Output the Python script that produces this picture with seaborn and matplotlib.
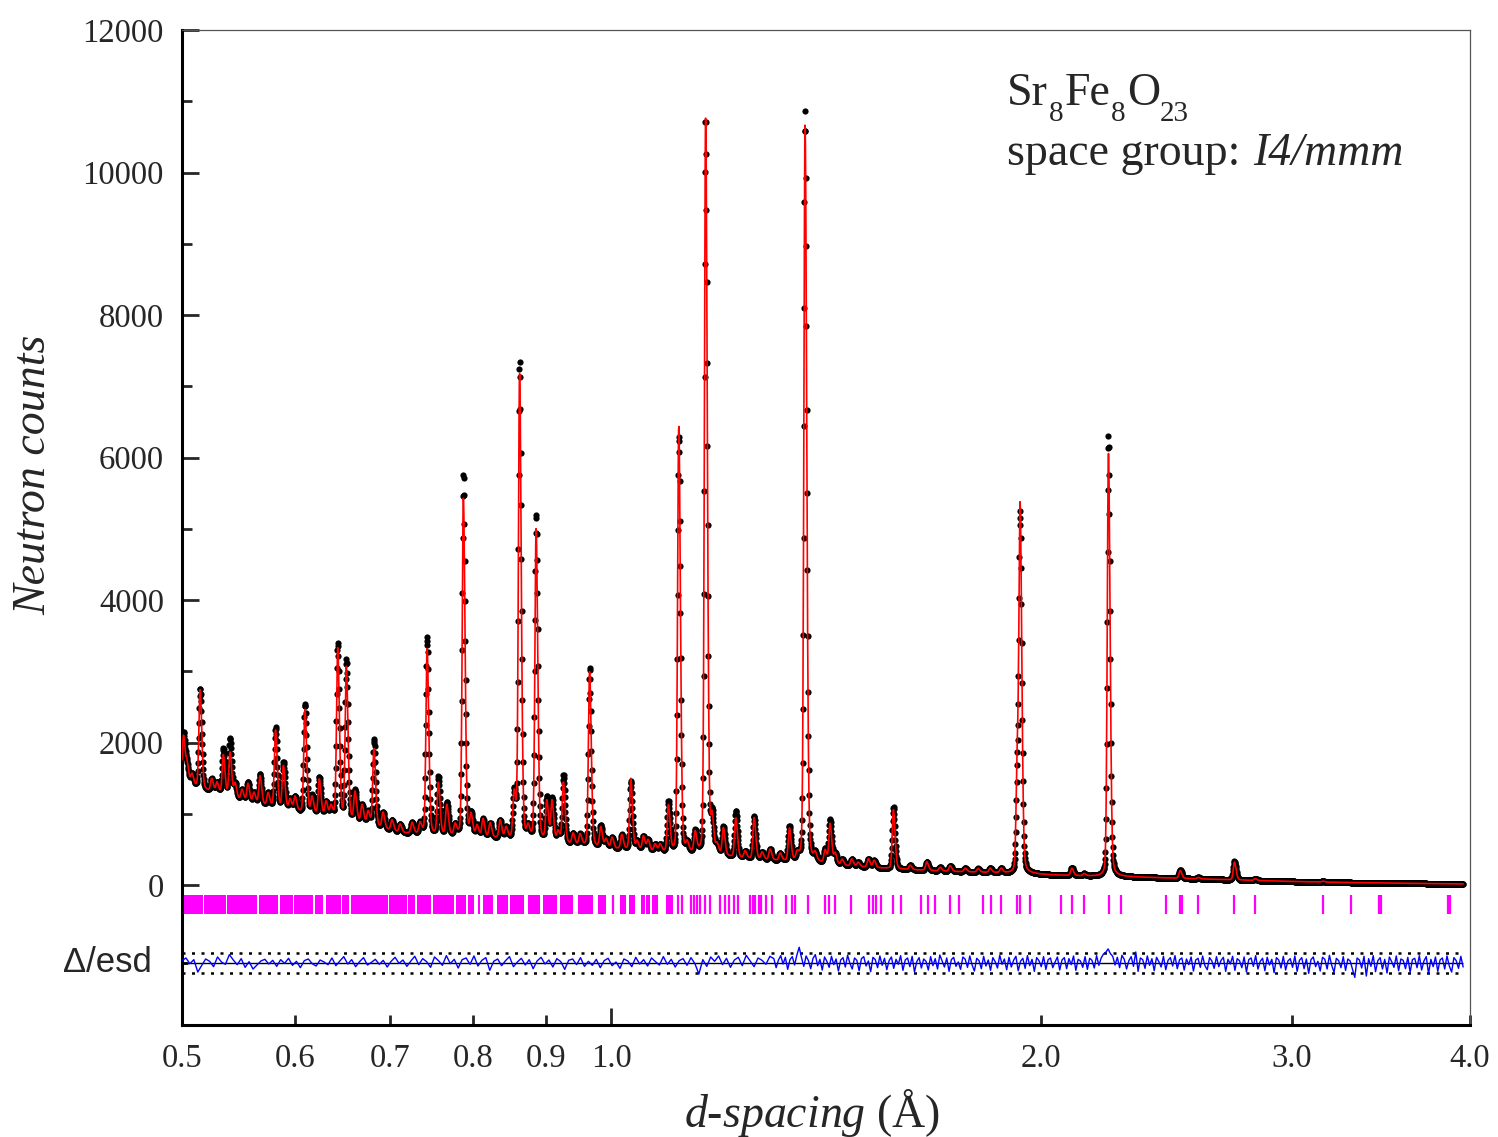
"""
Sr8Fe8O23 time-of-flight neutron pattern: observed points, calculated profile,
reflection markers and the scaled difference curve underneath.
"""

import numpy as np
import matplotlib
matplotlib.use("Agg")
import matplotlib.pyplot as plt
import matplotlib.transforms as mtransforms
import seaborn as sns

# ── Values ──────────────────────────────────────────────────────────────────
# Background level (counts) at a handful of d-spacings (Å)
BG_D = [0.500, 0.515, 0.558, 0.605, 0.657, 0.711, 0.771, 0.836, 0.906, 0.983,
        1.066, 1.155, 1.252, 1.357, 1.471, 1.594, 1.728, 1.873, 2.031, 2.200,
        2.387, 2.584, 2.805, 3.035, 3.296, 3.574, 3.956]
BG_COUNTS = [1450, 1350, 1150, 1020, 900, 730, 690, 650, 600, 520,
             470, 420, 360, 320, 260, 220, 190, 170, 140, 120,
             105, 85, 65, 47, 35, 25, 15]

# Peak positions (Å) and net heights above background: observed / calculated
PEAK_D = [0.5012, 0.5041, 0.5081, 0.5148, 0.5246, 0.5291, 0.5345, 0.5403, 0.5447, 0.5509,
          0.5562, 0.5616, 0.5671, 0.5745, 0.5815, 0.5889, 0.5953, 0.6001, 0.6098, 0.6168,
          0.6241, 0.6309, 0.6360, 0.6429, 0.6519, 0.6611, 0.6687, 0.6752, 0.6816, 0.6917,
          0.7018, 0.7110, 0.7249, 0.7343, 0.7427, 0.7563, 0.7667, 0.7770, 0.7875, 0.7973,
          0.8051, 0.8129, 0.8222, 0.8356, 0.8437, 0.8547, 0.8623, 0.8742, 0.8856, 0.9010,
          0.9087, 0.9176, 0.9255, 0.9401, 0.9508, 0.9655, 0.9831, 0.9915, 1.0012, 1.0170,
          1.0319, 1.0424, 1.0531, 1.0611, 1.0732, 1.0819, 1.0965, 1.1150, 1.1301, 1.1448,
          1.1644, 1.1766, 1.1862, 1.1983, 1.2225, 1.2410, 1.2592, 1.2756, 1.2921, 1.3132,
          1.3331, 1.3497, 1.3672, 1.3895, 1.4122, 1.4236, 1.4352, 1.4515, 1.4743, 1.4895,
          1.5144, 1.5284, 1.5768, 1.6199, 1.6642, 1.7003, 1.7280, 1.7704, 1.8079, 1.8433,
          1.8763, 1.9260, 1.9350, 2.1032, 2.1454, 2.2313, 2.5051, 2.5790, 2.7347, 2.8277,
          3.1543]
PEAK_OBS = [700, 250, 150, 1400, 180, 150, 650, 820, 200, 150,
            280, 150, 420, 180, 1120, 650, 150, 200, 1530, 250,
            530, 200, 150, 2450, 2230, 420, 250, 180, 1210, 220,
            150, 120, 150, 150, 2760, 800, 450, 150, 5080, 300,
            150, 250, 200, 250, 150, 650, 6700, 150, 4560, 600,
            600, 150, 950, 150, 150, 2500, 300, 120, 150, 200,
            960, 120, 200, 150, 100, 100, 700, 5850, 120, 300,
            10350, 500, 120, 400, 650, 100, 600, 100, 150, 100,
            480, 100, 10550, 100, 200, 620, 150, 80, 100, 60,
            120, 100, 870, 60, 120, 50, 80, 50, 50, 60,
            60, 1400, 4750, 110, 30, 6190, 120, 20, 260, 25,
            12]
PEAK_CALC = [650, 250, 150, 1390, 180, 150, 560, 620, 200, 150,
             260, 150, 400, 180, 1080, 600, 150, 200, 1450, 230,
             500, 200, 150, 2380, 2130, 400, 250, 180, 1080, 220,
             150, 120, 150, 150, 2600, 720, 420, 150, 4750, 280,
             150, 250, 200, 250, 150, 620, 6530, 150, 4370, 550,
             560, 150, 850, 150, 150, 2455, 280, 120, 150, 200,
             1000, 120, 200, 150, 100, 100, 650, 6000, 120, 280,
             10400, 450, 120, 380, 550, 100, 580, 100, 150, 100,
             450, 100, 10350, 100, 180, 560, 150, 80, 100, 60,
             120, 100, 830, 60, 120, 50, 80, 50, 50, 60,
             60, 1500, 4850, 100, 30, 5940, 110, 20, 250, 25,
             12]

# Reflection markers: dense runs (start, end) and isolated positions (Å)
TICK_BLOCKS = [(0.5006, 0.5170), (0.5183, 0.5368), (0.5379, 0.5646), (0.5659, 0.5841),
               (0.5857, 0.5984), (0.5994, 0.6181), (0.6195, 0.6281), (0.6306, 0.6464),
               (0.6477, 0.6551), (0.6569, 0.6970), (0.6988, 0.7187), (0.7202, 0.7284),
               (0.7304, 0.7471), (0.7499, 0.7757), (0.7782, 0.7905), (0.7935, 0.8012),
               (0.8060, 0.8090), (0.8125, 0.8262), (0.8311, 0.8464), (0.8491, 0.8686),
               (0.8742, 0.8913), (0.8952, 0.9166), (0.9206, 0.9401), (0.9472, 0.9714),
               (0.9788, 0.9915), (1.0142, 1.0241), (1.0290, 1.0391), (1.0492, 1.0560),
               (1.0577, 1.0645), (1.0680, 1.0784), (1.0919, 1.1048)]
TICK_D = [1.0020, 1.1138, 1.1201, 1.1374, 1.1429, 1.1485, 1.1541, 1.1634, 1.1719, 1.1919,
          1.2016, 1.2094, 1.2192, 1.2271, 1.2511, 1.2560, 1.2612, 1.2694, 1.2735, 1.2838,
          1.2963, 1.3260, 1.3389, 1.3454, 1.3739, 1.4122, 1.4213, 1.4352, 1.4727, 1.5149,
          1.5247, 1.5321, 1.5458, 1.5761, 1.5953, 1.6489, 1.6677, 1.6853, 1.7280, 1.7519,
          1.8211, 1.8463, 1.8748, 1.9260, 1.9350, 1.9647, 2.0672, 2.1032, 2.1454, 2.2338,
          2.2764, 2.4492, 2.5051, 2.5120, 2.5790, 2.7347, 2.8277, 3.1543, 3.3002, 3.4545,
          3.4640, 3.8597, 3.8741]

# Difference curve in esd units, left to right; the short-d part (up to 1.3 Å)
# is sampled more coarsely than the long-d part
DIFF_LEFT = [0.6, 1.4, -0.3, 0.9, -2.8, -0.8, 1.1, 0.4, -1.2, 1.7, 0.2, -0.5, 2.4, 0.8, -0.6, 1.2, -1.4, 0.3, -1.9, -0.7, 0.5, 1.0, -0.4, 0.7, -1.1,
             0.9, -0.2, 1.3, -0.8, 0.4, -1.5, 0.6, 1.1, -0.3, -1.0, 0.8, 0.2, -0.6, 1.4, -0.9, 0.5, 1.8, -0.4, 0.9, -1.2, 0.3, 1.5, -0.7, 0.1, 1.0,
             -0.5, 0.7, -1.3, 0.4, 1.6, -0.2, 0.8, -1.1, 0.5, 1.9, -0.6, 1.2, 0.3, -1.4, 1.7, 0.6, -0.8, 2.1, -0.3, 1.0, -1.6, 0.9, 1.4, -0.5, 2.0,
             -1.0, 0.7, 1.5, -2.3, 0.4, 1.1, -0.9, 0.6, 1.8, -1.2, 0.2, 1.3, -0.7, 0.9, -1.8, 0.5, 1.6, -0.4, 0.8, -1.3, 1.2, 0.3, -2.0, 0.7, 1.1,
             -0.6, 1.5, -1.1, 0.4, -0.8, 1.0, -1.5, 0.6, 1.3, -0.9, 0.2, -1.7, 1.1, 0.5, -1.2, 1.6, -0.4, 0.9, -1.0, 1.4, 0.3, -0.7, 1.8, -0.5, 1.0,
             -1.3, 0.6, 1.2, -0.8, 1.5, -0.3, -3.4, 0.9, -1.1, 1.7, 0.4, 2.0, -0.6, 1.3, -1.4, 0.8, 1.6, -0.9, 2.2, 0.5, -1.2, 1.4, 0.7, -0.5, 1.9]
DIFF_RIGHT = [1.2, -1.5, 0.8, 2.1, -0.4, 1.6, -2.0, 0.9, 1.8, -0.7, 2.3, 4.6, 1.5, -1.1, 2.0, 0.6, -1.8, 1.3, 2.4, -0.9, 1.0, -2.2, 1.7, 0.4, -1.4,
              1.9, -0.6, 1.1, -2.5, 0.8, 1.5, -1.3, 2.2, -0.2, -1.9, 1.4, 0.7, -2.4, 1.2, 1.8, -1.0, 0.5, -2.7, 1.6, 0.9, -1.5, 2.0, -0.8, 1.3, -2.1,
              0.6, 1.7, -1.7, 1.0, -0.5, 2.1, -2.3, 0.8, 1.4, -1.2, 1.9, -2.8, 0.3, 1.5, -1.6, 1.1, 0.4, -2.2, 1.8, -0.9, 1.2, -1.9, 2.3, 0.5, -1.3,
              1.4, -2.6, 0.9, 1.6, -1.1, 0.2, -2.0, 1.7, 1.0, -1.4, 2.0, -0.7, -2.5, 1.3, 0.6, -1.8, 1.9, -1.0, 0.8, -2.3, 1.5, 0.3, -1.6, 2.2, -0.5,
              1.1, -2.1, 1.6, -1.3, 0.7, 1.9, -2.4, 0.4, 1.3, -1.7, 2.1, -0.9, 1.0, -2.6, 1.5, 0.6, -1.2, 1.8, -2.0, 0.9, 1.4, -1.5, 0.2, 1.7, -2.2,
              0.8, 1.5, -1.8, 1.2, -0.6, 2.0, -2.3, 1.0, 0.5, -1.4, 1.8, -2.0, 1.3, 0.7, -1.6, 2.1, -0.8, 1.4, 2.6, 3.1, 4.1, 2.7, 1.9, -0.7, 1.6,
              -1.5, 2.2, 1.0, -1.9, 0.6, 1.8, -1.1, 3.2, -2.6, 1.4, 0.9, -1.7, 2.0, -0.8, 1.2, -2.4, 1.6, 0.3, -1.3, 1.9, -2.1, 0.7, 1.5, -1.0, 2.1,
              -1.8, 0.9, 1.4, -2.2, 1.1, -0.6, 1.7, -2.5, 0.8, 1.3, -1.4, 2.0, -0.9, -2.1, 1.5, 0.5, -1.7, 1.8, -1.2, 0.7, 1.6, -2.6, 1.0, -0.4, 1.9,
              -2.3, 1.2, 0.6, -1.5, 1.7, -2.8, 0.9, 1.4, -1.1, 2.1, -1.9, 0.4, 1.3, -2.4, 1.6, -0.7, 1.0, -3.0, 1.5, 0.8, -1.6, 1.9, -2.2, 0.5, 1.2,
              -1.4, 2.0, -2.6, 0.7, 1.5, -1.8, 1.1, -3.2, 0.9, 1.7, -1.2, 0.4, -2.5, 1.6, 1.0, -1.9, 2.2, -0.8, -2.9, 1.3, 0.6, -1.5, 1.8, -2.3, 1.1,
              0.5, -2.0, -4.4, 1.4, 0.8, -1.6, 1.9, -4.0, 1.2, -1.1, 2.1, -2.7, 0.6, 1.5, -1.9, 1.0, -3.1, 1.7, 0.3, -1.4, 2.0, -2.4, 1.1, 0.7, -1.8,
              1.6, -2.9, 0.9, 1.3, -1.5, 2.1, -2.2, 0.5, 1.8, -3.3, 1.0, -1.2, 1.7, -2.6, 0.8, 1.4, -1.9, 2.0, -1.0, -2.8, 1.5, 0.6, -1.7, 1.9, -1.3]

X_TICKS = [0.5, 0.6, 0.7, 0.8, 0.9, 1.0, 2.0, 3.0, 4.0]
X_TICK_LABELS = ["0.5", "0.6", "0.7", "0.8", "0.9", "1.0", "2.0", "3.0", "4.0"]
Y_TICKS = [0, 2000, 4000, 6000, 8000, 10000, 12000]

# ── Layout / style constants ────────────────────────────────────────────────
D_MIN, D_SPLIT, D_MAX = 0.5, 1.3, 3.956
N_POINTS = 4000                    # TOF bins, equal steps in ln(d)
FWHM_LN, ASYM, ETA = 0.0045, 1.4, 0.2
TICK_LO, TICK_HI = -405, -145
DIFF_BASE, DIFF_STEP, DIFF_BAND = -1090, 47, 3.0

# ── Profiles ────────────────────────────────────────────────────────────────
d = np.exp(np.linspace(np.log(D_MIN), np.log(D_MAX), N_POINTS))
lnd = np.log(d)
bg = np.interp(lnd, np.log(BG_D), BG_COUNTS)


def pattern(heights):
    y = bg.copy()
    for d0, h in zip(PEAK_D, heights):
        u = lnd - np.log(d0)
        w = np.where(u < 0, FWHM_LN, FWHM_LN * ASYM)
        t = (2 * u / w) ** 2
        y += h * ((1 - ETA) * np.exp(-np.log(2) * t) + ETA / (1 + t))
    return y


obs = pattern(PEAK_OBS)
calc = pattern(PEAK_CALC)
d_diff = np.concatenate([np.geomspace(D_MIN, D_SPLIT, len(DIFF_LEFT), endpoint=False),
                         np.geomspace(D_SPLIT, D_MAX, len(DIFF_RIGHT))])
diff = DIFF_BASE + DIFF_STEP * np.array(DIFF_LEFT + DIFF_RIGHT)

# ── Plot ────────────────────────────────────────────────────────────────────
sns.set_theme(style="ticks")
plt.rcParams.update({
    "font.family": ["Liberation Serif", "DejaVu Serif"],
    "mathtext.fontset": "custom",
    "mathtext.rm": "Liberation Serif",
    "mathtext.it": "Liberation Serif:italic",
    "mathtext.bf": "Liberation Serif:bold",
    "axes.edgecolor": "black",
})

fig = plt.figure(figsize=(14.98, 11.37), dpi=100)
ax = fig.add_axes([0.1215, 0.0985, 0.8598, 0.8751])

sns.scatterplot(x=d, y=obs, s=20, color="black", linewidth=0, ax=ax, zorder=2)
sns.lineplot(x=d, y=calc, color="red", lw=1.2, sort=False, estimator=None,
             ax=ax, zorder=3)

# reflection markers
ax.broken_barh([(a, b - a) for a, b in TICK_BLOCKS], (TICK_LO, TICK_HI - TICK_LO),
               facecolors="#FF00FF", edgecolor="none", zorder=2)
ax.vlines(TICK_D, TICK_LO, TICK_HI, color="#FF00FF", lw=1.6, zorder=2)

# difference curve with its +/- band
ax.hlines(DIFF_BASE, D_MIN, D_MAX, color="black", lw=1, zorder=2)
ax.hlines([DIFF_BASE + DIFF_STEP * DIFF_BAND, DIFF_BASE - DIFF_STEP * DIFF_BAND],
          D_MIN, D_MAX, color="black", lw=1.8, linestyles=(0, (1.2, 2.6)), zorder=2)
sns.lineplot(x=d_diff, y=diff, color="blue", lw=1, sort=False, estimator=None,
             ax=ax, zorder=3)

ax.set_xscale("log")
ax.set_xlim(0.5, 4.0)
ax.set_ylim(-1965, 12000)

ax.set_xticks([1.0])
ax.set_xticklabels(["1.0"])
minor_x = [t for t in X_TICKS if t != 1.0]
ax.set_xticks(minor_x, minor=True)
ax.set_xticklabels([l for t, l in zip(X_TICKS, X_TICK_LABELS) if t != 1.0], minor=True)
ax.tick_params(axis="x", which="major", direction="in", length=12.5, width=2,
               pad=13, labelsize=23.5, top=False)
ax.tick_params(axis="x", which="minor", direction="in", length=7.5, width=2,
               pad=13, labelsize=23.5, top=False)

ax.set_yticks(Y_TICKS)
ax.set_yticks([1000, 3000, 5000, 7000, 9000, 11000], minor=True)
ax.tick_params(axis="y", which="major", direction="in", length=12.5, width=2,
               pad=13, labelsize=23.5, right=False)
ax.tick_params(axis="y", which="minor", direction="in", length=7.5, width=2,
               right=False)

# Δ/esd marker on the left spine
blend = mtransforms.blended_transform_factory(ax.transAxes, ax.transData)
ax.plot([0, 0.004], [DIFF_BASE, DIFF_BASE], color="black", lw=2,
        transform=blend, clip_on=False)
ax.text(-0.0235, DIFF_BASE, "Δ/esd", transform=blend, ha="right", va="center",
        fontsize=25, family=["Liberation Sans", "DejaVu Sans"])

for side in ("left", "bottom"):
    ax.spines[side].set_linewidth(2.2)
for side in ("top", "right"):
    ax.spines[side].set_linewidth(0.9)
    ax.spines[side].set_color("#555555")

ax.set_ylabel("Neutron counts", fontsize=33, fontstyle="italic")
ax.yaxis.set_label_coords(-0.098, 0.553)
ax.set_xlabel(r"$\mathit{d}$-$\mathit{spacing}$ (Å)", fontsize=33)
ax.xaxis.set_label_coords(0.489, -0.062)

# Annotation: pieces laid out one after another along a baseline (pixels)
renderer = fig.canvas.get_renderer()
ident = mtransforms.IdentityTransform()


def text_runs(x_frac, y_frac, runs):
    x, y = ax.transAxes.transform((x_frac, y_frac))
    for s, size, drop, style, gap in runs:
        x += gap
        t = ax.text(x, y - drop, s, transform=ident, fontsize=size,
                    fontstyle=style, ha="left", va="baseline")
        x = t.get_window_extent(renderer=renderer).x1


text_runs(0.6405, 0.9246, [("Sr", 33, 0, "normal", 0), ("8", 21, 16, "normal", 1),
                           ("Fe", 33, 0, "normal", 1), ("8", 21, 16, "normal", 1),
                           ("O", 33, 0, "normal", 1), ("23", 21, 16, "normal", 0)])
text_runs(0.6405, 0.8643, [("space group:", 33, 0, "normal", 0),
                           ("I4/mmm", 33, 0, "italic", 13)])

fig.savefig("out.png", dpi=100)
plt.close(fig)
